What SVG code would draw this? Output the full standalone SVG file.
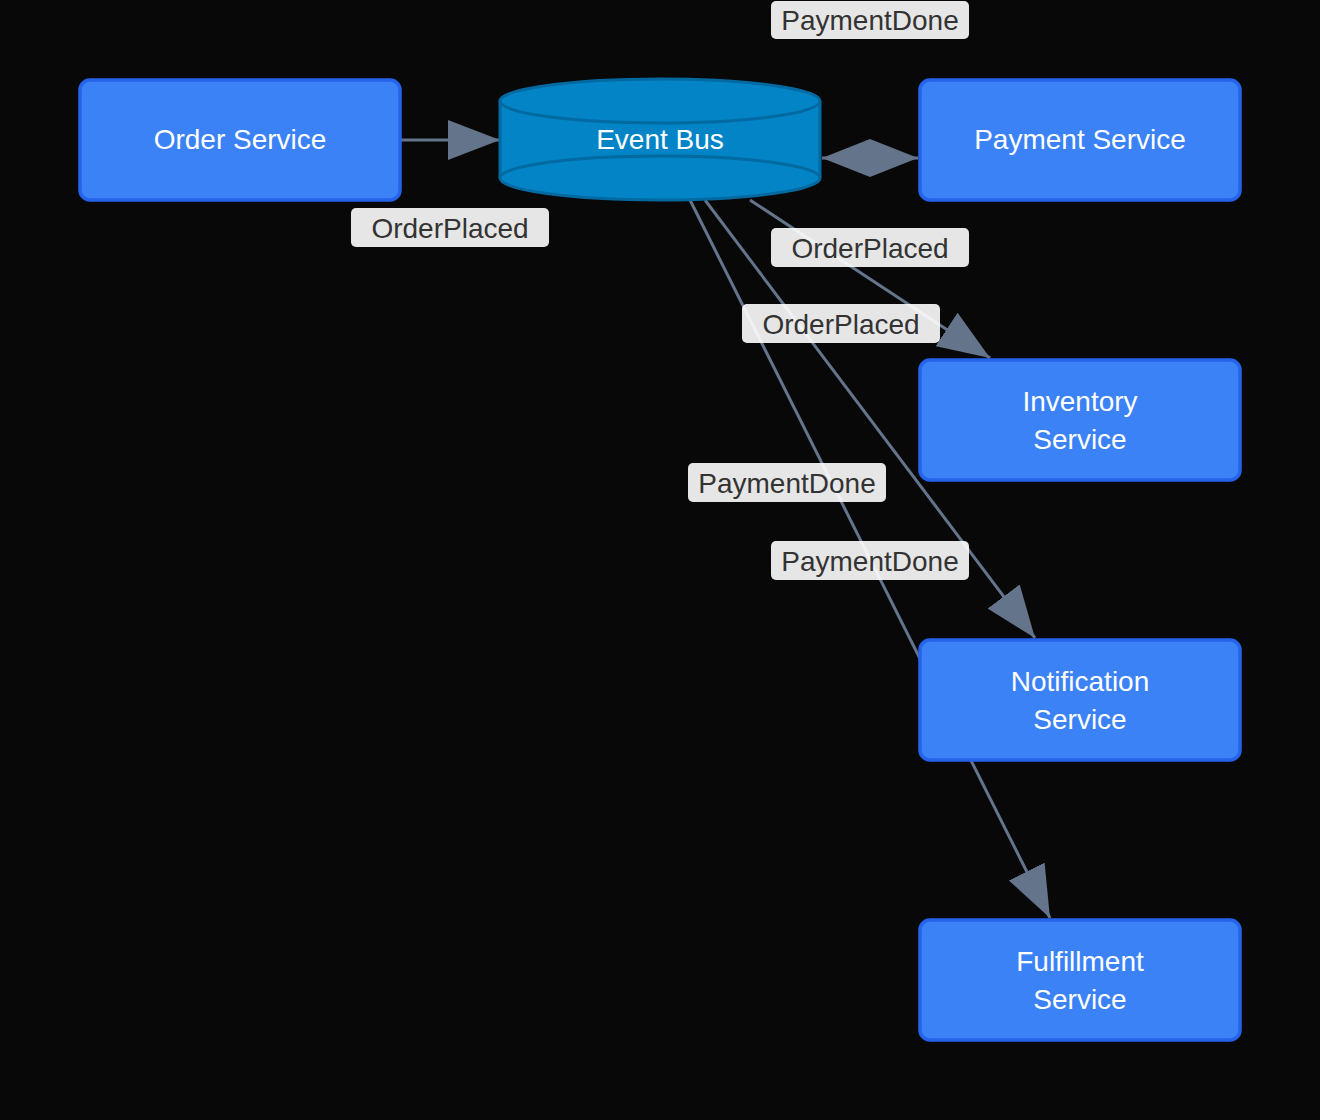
<svg xmlns="http://www.w3.org/2000/svg" width="1320" height="1120" viewBox="0 0 1320 1120">
  <defs>
    <marker id="arrow" viewBox="0 0 52 40" markerWidth="52" markerHeight="40" markerUnits="userSpaceOnUse" refX="52" refY="20" orient="auto">
      <path d="M0,0 L52,20 L0,40 Z" fill="#64748b"/>
    </marker>
    <marker id="diamond" viewBox="0 0 96 38" markerWidth="96" markerHeight="38" markerUnits="userSpaceOnUse" refX="96" refY="19" orient="auto">
      <path d="M0,19 L48,0 L96,19 L48,38 Z" fill="#64748b"/>
    </marker>
    <style>
      .node rect { fill: #3b82f6; stroke: #2563eb; stroke-width: 3.5; }
      .ntext { fill: #ffffff; font-family: "Liberation Sans", Arial, sans-serif; font-size: 28px; text-anchor: middle; dominant-baseline: central; }
      .edge { stroke: #64748b; stroke-width: 3; fill: none; }
      .lbl rect { fill: #ffffff; fill-opacity: 0.9; }
      .lbl text { fill: #333333; font-family: "Liberation Sans", Arial, sans-serif; font-size: 28px; text-anchor: middle; dominant-baseline: central; }
    </style>
  </defs>
  <rect width="1320" height="1120" fill="#080808"/>

  <g id="connectors">
    <line class="edge" x1="400" y1="140" x2="500" y2="140" marker-end="url(#arrow)"/>
    <line class="edge" x1="822" y1="158" x2="918" y2="158" marker-end="url(#diamond)"/>
    <line class="edge" x1="750" y1="200" x2="990" y2="358" marker-end="url(#arrow)"/>
    <line class="edge" x1="705" y1="200" x2="1035" y2="638" marker-end="url(#arrow)"/>
    <line class="edge" x1="690" y1="200" x2="1050" y2="918" marker-end="url(#arrow)"/>
    <g class="lbl"><rect x="351" y="208" width="198" height="39" rx="5"/><text x="450" y="228">OrderPlaced</text></g>
    <g class="lbl"><rect x="771" y="1" width="198" height="38" rx="5"/><text x="870" y="20">PaymentDone</text></g>
    <g class="lbl"><rect x="771" y="228" width="198" height="39" rx="5"/><text x="870" y="248">OrderPlaced</text></g>
    <g class="lbl"><rect x="742" y="304" width="198" height="39" rx="5"/><text x="841" y="324">OrderPlaced</text></g>
    <g class="lbl"><rect x="688" y="463" width="198" height="39" rx="5"/><text x="787" y="483">PaymentDone</text></g>
    <g class="lbl"><rect x="771" y="541" width="198" height="39" rx="5"/><text x="870" y="561">PaymentDone</text></g>
  </g>

  <g id="order-service" class="node">
    <rect x="80" y="80" width="320" height="120" rx="10"/>
    <text class="ntext" x="240" y="139">Order Service</text>
  </g>

  <g id="event-bus">
    <path d="M500,101 L500,178 A160,22 0 0 0 820,178 L820,101 A160,22 0 0 0 500,101 Z" fill="#0284c7" stroke="#0369a1" stroke-width="3"/>
    <path d="M500,101 A160,22 0 0 0 820,101" fill="none" stroke="#0369a1" stroke-width="3"/>
    <path d="M500,178 A160,22 0 0 1 820,178" fill="none" stroke="#0369a1" stroke-width="3"/>
    <text class="ntext" x="660" y="139">Event Bus</text>
  </g>

  <g id="payment-service" class="node">
    <rect x="920" y="80" width="320" height="120" rx="10"/>
    <text class="ntext" x="1080" y="139">Payment Service</text>
  </g>

  <g id="inventory-service" class="node">
    <rect x="920" y="360" width="320" height="120" rx="10"/>
    <text class="ntext" x="1080" y="401">Inventory</text>
    <text class="ntext" x="1080" y="439">Service</text>
  </g>

  <g id="notification-service" class="node">
    <rect x="920" y="640" width="320" height="120" rx="10"/>
    <text class="ntext" x="1080" y="681">Notification</text>
    <text class="ntext" x="1080" y="719">Service</text>
  </g>

  <g id="fulfillment-service" class="node">
    <rect x="920" y="920" width="320" height="120" rx="10"/>
    <text class="ntext" x="1080" y="961">Fulfillment</text>
    <text class="ntext" x="1080" y="999">Service</text>
  </g>
</svg>
